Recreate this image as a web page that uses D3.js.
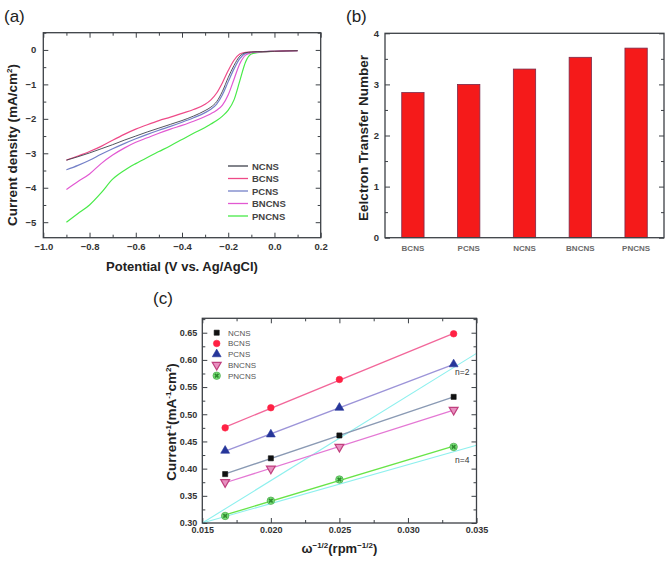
<!DOCTYPE html>
<html><head><meta charset="utf-8">
<script src="https://cdn.jsdelivr.net/npm/d3@7"></script>
<style>body{margin:0;background:#fff}svg{display:block}text{font-family:"Liberation Sans",Arial,sans-serif}</style>
</head><body><svg id="c" width="666" height="563"></svg>
<script>
// ---------- Panel (a): LSV curves ----------
const aPot = [-0.9,-0.85,-0.8,-0.75,-0.7,-0.65,-0.6,-0.55,-0.5,-0.45,-0.4,-0.35,-0.3,-0.275,-0.25,-0.225,-0.2,-0.175,-0.15,-0.125,-0.1,-0.075,-0.05,0,0.05,0.1];
const aBCNS  = [-3.2,-3.08,-2.95,-2.8,-2.62,-2.45,-2.3,-2.17,-2.05,-1.95,-1.84,-1.73,-1.58,-1.45,-1.25,-0.95,-0.6,-0.3,-0.12,-0.07,-0.06,-0.05,-0.05,-0.04,-0.03,-0.02];
const aNCNS  = [-3.2,-3.1,-2.99,-2.87,-2.75,-2.62,-2.5,-2.38,-2.27,-2.16,-2.05,-1.92,-1.76,-1.66,-1.5,-1.2,-0.8,-0.45,-0.18,-0.08,-0.06,-0.05,-0.05,-0.04,-0.03,-0.02];
const aPCNS  = [-3.48,-3.35,-3.2,-3.03,-2.87,-2.72,-2.58,-2.45,-2.33,-2.22,-2.1,-1.97,-1.82,-1.72,-1.57,-1.3,-0.92,-0.55,-0.25,-0.1,-0.07,-0.06,-0.05,-0.04,-0.03,-0.02];
const aBNCNS = [-4.05,-3.82,-3.6,-3.3,-3.05,-2.85,-2.68,-2.55,-2.42,-2.3,-2.19,-2.07,-1.93,-1.85,-1.75,-1.6,-1.3,-0.85,-0.4,-0.15,-0.08,-0.06,-0.05,-0.04,-0.03,-0.02];
const aPNCNS = [-5.0,-4.75,-4.5,-4.15,-3.75,-3.5,-3.3,-3.12,-2.95,-2.78,-2.6,-2.42,-2.25,-2.15,-2.05,-1.92,-1.75,-1.45,-0.9,-0.35,-0.12,-0.08,-0.06,-0.04,-0.03,-0.02];
const aNames = ["NCNS","BCNS","PCNS","BNCNS","PNCNS"];
const aColors = ["#3e424c","#ee4a88","#7480c8","#e258d2","#48ea48"];

// ---------- Panel (b): electron transfer number ----------
const bCats = ["BCNS","PCNS","NCNS","BNCNS","PNCNS"];
const bVals = [2.84, 3.0, 3.3, 3.53, 3.71];

// ---------- Panel (c): K-L plots ----------
const cX = [0.016667, 0.02, 0.025, 0.033333];
const cNCNS  = [0.390, 0.419, 0.461, 0.532];
const cBCNS  = [0.475, 0.512, 0.564, 0.648];
const cPCNS  = [0.433, 0.463, 0.512, 0.592];
const cBNCNS = [0.375, 0.400, 0.440, 0.508];
const cPNCNS = [0.313, 0.341, 0.380, 0.440];
const cN2 = [[0.015,0.300],[0.035,0.612]];
const cN4 = [[0.015,0.300],[0.035,0.443]];
const cMarkColors = ["#111111","#ff2244","#26369a","#c0407e","#58d058"];
const cLineColors = ["#8a9ab4","#f2679a","#9c94d8","#e478d4","#68e448"];

const svg = d3.select("#c");
const FONT = '"Liberation Sans",Arial,sans-serif';
const frameColor = "#3c4046";

function styleAxis(g, fs){
  g.select(".domain").remove();
  g.selectAll("line").attr("stroke", frameColor).attr("stroke-width",1);
  g.selectAll("text").attr("font-size", fs).attr("font-weight","bold").attr("fill","#333").attr("font-family",FONT);
}
function frame(x0,y0,x1,y1){
  svg.append("rect").attr("x",x0).attr("y",y0).attr("width",x1-x0).attr("height",y1-y0)
    .attr("fill","none").attr("stroke",frameColor).attr("stroke-width",1.3);
}

// ===== Panel (a) =====
{
  const L=43.3,R=320.7,T=32.7,B=237.7;
  const x = d3.scaleLinear([-1.0,0.2],[L,R]);
  const y = d3.scaleLinear([-5.45,0.5],[B,T]);
  const xMaj=[-1.0,-0.8,-0.6,-0.4,-0.2,0.0,0.2], xMin=d3.range(-0.9,0.2,0.2).map(v=>+v.toFixed(2));
  const yMaj=[0,-1,-2,-3,-4,-5], yMin=[0.5,-0.5,-1.5,-2.5,-3.5,-4.5];
  let g;
  g=svg.append("g").attr("transform",`translate(0,${B})`).call(d3.axisBottom(x).tickValues(xMaj).tickFormat(d3.format(".1f")).tickSizeInner(-5).tickSizeOuter(0).tickPadding(6)); styleAxis(g,9.5);
  g=svg.append("g").attr("transform",`translate(0,${B})`).call(d3.axisBottom(x).tickValues(xMin).tickFormat("").tickSizeInner(-3).tickSizeOuter(0)); styleAxis(g,9);
  g=svg.append("g").attr("transform",`translate(0,${T})`).call(d3.axisTop(x).tickValues(xMaj).tickFormat("").tickSizeInner(-5).tickSizeOuter(0)); styleAxis(g,9);
  g=svg.append("g").attr("transform",`translate(0,${T})`).call(d3.axisTop(x).tickValues(xMin).tickFormat("").tickSizeInner(-3).tickSizeOuter(0)); styleAxis(g,9);
  g=svg.append("g").attr("transform",`translate(${L},0)`).call(d3.axisLeft(y).tickValues(yMaj).tickFormat(d3.format("d")).tickSizeInner(-5).tickSizeOuter(0).tickPadding(7)); styleAxis(g,9.5);
  g=svg.append("g").attr("transform",`translate(${L},0)`).call(d3.axisLeft(y).tickValues(yMin).tickFormat("").tickSizeInner(-3).tickSizeOuter(0)); styleAxis(g,9);
  g=svg.append("g").attr("transform",`translate(${R},0)`).call(d3.axisRight(y).tickValues(yMaj).tickFormat("").tickSizeInner(-5).tickSizeOuter(0)); styleAxis(g,9);
  g=svg.append("g").attr("transform",`translate(${R},0)`).call(d3.axisRight(y).tickValues(yMin).tickFormat("").tickSizeInner(-3).tickSizeOuter(0)); styleAxis(g,9);
  frame(L,T,R,B);
  const series=[aNCNS,aBCNS,aPCNS,aBNCNS,aPNCNS];
  const line=d3.line().x((d,i)=>x(aPot[i])).y(d=>y(d)).curve(d3.curveMonotoneX);
  const order=[4,3,2,1,0];
  order.forEach(k=>{
    svg.append("path").attr("d",line(series[k])).attr("fill","none").attr("stroke",aColors[k]).attr("stroke-width",k===0?0.9:1.2);
  });
  // legend
  aNames.forEach((n,i)=>{
    const yy=166+i*12.5;
    svg.append("line").attr("x1",228).attr("x2",248).attr("y1",yy).attr("y2",yy).attr("stroke",aColors[i]).attr("stroke-width",1.3);
    svg.append("text").attr("x",252).attr("y",yy+3.5).attr("font-size",9.5).attr("font-weight","bold").attr("fill","#444").text(n);
  });
  svg.append("text").attr("x",(L+R)/2).attr("y",271).attr("text-anchor","middle").attr("font-size",13).attr("font-weight","bold").attr("fill","#222").text("Potential (V vs. Ag/AgCl)");
  const yl=svg.append("text").attr("transform",`translate(17,145) rotate(-90)`).attr("text-anchor","middle").attr("font-size",13.5).attr("font-weight","bold").attr("fill","#222");
  yl.append("tspan").text("Current density (mA/cm");
  yl.append("tspan").attr("dy",-5).attr("font-size",8).text("2");
  yl.append("tspan").attr("dy",5).text(")");
  svg.append("text").attr("x",4).attr("y",22).attr("font-size",17).attr("fill","#222").text("(a)");
}

// ===== Panel (b) =====
{
  const L=385,R=664,T=33.3,B=237.7;
  const x=d3.scaleBand(bCats,[L,R]).paddingInner(0.6).paddingOuter(0.3);
  const y=d3.scaleLinear([0,4],[B,T]);
  let g;
  g=svg.append("g").attr("transform",`translate(${L},0)`).call(d3.axisLeft(y).tickValues([0,1,2,3,4]).tickFormat(d3.format("d")).tickSizeInner(-5).tickSizeOuter(0).tickPadding(6)); styleAxis(g,9.5);
  g=svg.append("g").attr("transform",`translate(${L},0)`).call(d3.axisLeft(y).tickValues([0.5,1.5,2.5,3.5]).tickFormat("").tickSizeInner(-3).tickSizeOuter(0)); styleAxis(g,9);
  g=svg.append("g").attr("transform",`translate(${R},0)`).call(d3.axisRight(y).tickValues([0,1,2,3,4]).tickFormat("").tickSizeInner(-5).tickSizeOuter(0)); styleAxis(g,9);
  g=svg.append("g").attr("transform",`translate(${R},0)`).call(d3.axisRight(y).tickValues([0.5,1.5,2.5,3.5]).tickFormat("").tickSizeInner(-3).tickSizeOuter(0)); styleAxis(g,9);
  g=svg.append("g").attr("transform",`translate(0,${B})`).call(d3.axisBottom(x).tickSize(0).tickPadding(8)); styleAxis(g,8);
  g.selectAll("text").attr("fill","#6a6a6a");
  svg.selectAll(".bar").data(bVals).enter().append("rect")
    .attr("x",(d,i)=>x(bCats[i])).attr("width",x.bandwidth())
    .attr("y",d=>y(d)).attr("height",d=>B-y(d))
    .attr("fill","#f51a1a").attr("stroke","#7a2a4a").attr("stroke-width",0.8);
  frame(L,T,R,B);
  svg.append("text").attr("transform",`translate(${368},138) rotate(-90)`).attr("text-anchor","middle").attr("font-size",13.5).attr("font-weight","bold").attr("fill","#222").text("Eelctron Transfer Number");
  svg.append("text").attr("x",346).attr("y",22).attr("font-size",17).attr("fill","#222").text("(b)");
}

// ===== Panel (c) =====
{
  const L=202.3,R=476.5,T=318.3,B=523;
  const x=d3.scaleLinear([0.015,0.035],[L,R]);
  const y=d3.scaleLinear([0.30,0.6765],[B,T]);
  const xMaj=[0.015,0.020,0.025,0.030,0.035], xMin=[0.0175,0.0225,0.0275,0.0325];
  const yMaj=[0.30,0.35,0.40,0.45,0.50,0.55,0.60,0.65], yMin=[0.325,0.375,0.425,0.475,0.525,0.575,0.625,0.675];
  let g;
  g=svg.append("g").attr("transform",`translate(0,${B})`).call(d3.axisBottom(x).tickValues(xMaj).tickFormat(d3.format(".3f")).tickSizeInner(-5).tickSizeOuter(0).tickPadding(4)); styleAxis(g,9);
  g=svg.append("g").attr("transform",`translate(0,${B})`).call(d3.axisBottom(x).tickValues(xMin).tickFormat("").tickSizeInner(-3).tickSizeOuter(0)); styleAxis(g,9);
  g=svg.append("g").attr("transform",`translate(0,${T})`).call(d3.axisTop(x).tickValues(xMaj).tickFormat("").tickSizeInner(-5).tickSizeOuter(0)); styleAxis(g,9);
  g=svg.append("g").attr("transform",`translate(0,${T})`).call(d3.axisTop(x).tickValues(xMin).tickFormat("").tickSizeInner(-3).tickSizeOuter(0)); styleAxis(g,9);
  g=svg.append("g").attr("transform",`translate(${L},0)`).call(d3.axisLeft(y).tickValues(yMaj).tickFormat(d3.format(".2f")).tickSizeInner(-5).tickSizeOuter(0).tickPadding(5)); styleAxis(g,9);
  g=svg.append("g").attr("transform",`translate(${L},0)`).call(d3.axisLeft(y).tickValues(yMin).tickFormat("").tickSizeInner(-3).tickSizeOuter(0)); styleAxis(g,9);
  g=svg.append("g").attr("transform",`translate(${R},0)`).call(d3.axisRight(y).tickValues(yMaj).tickFormat("").tickSizeInner(-5).tickSizeOuter(0)); styleAxis(g,9);
  g=svg.append("g").attr("transform",`translate(${R},0)`).call(d3.axisRight(y).tickValues(yMin).tickFormat("").tickSizeInner(-3).tickSizeOuter(0)); styleAxis(g,9);
  // theoretical lines
  const ln=d3.line().x(d=>x(d[0])).y(d=>y(d[1]));
  [cN2,cN4].forEach(s=>svg.append("path").attr("d",ln(s)).attr("fill","none").attr("stroke","#8ef0ee").attr("stroke-width",1.1));
  const series=[cNCNS,cBCNS,cPCNS,cBNCNS,cPNCNS];
  // fit lines (least squares through the points)
  series.forEach((s,k)=>{
    const mx=d3.mean(cX), my=d3.mean(s);
    const b=d3.sum(cX,(v,i)=>(v-mx)*(s[i]-my))/d3.sum(cX,v=>(v-mx)*(v-mx));
    const a=my-b*mx;
    const x0=cX[0], x1=cX[cX.length-1];
    svg.append("path").attr("d",ln([[x0,a+b*x0],[x1,a+b*x1]])).attr("fill","none").attr("stroke",cLineColors[k]).attr("stroke-width",1.3);
  });
  frame(L,T,R,B);
  const sym=[d3.symbolSquare,d3.symbolCircle,d3.symbolTriangle,d3.symbolTriangle,d3.symbolCircle];
  function marker(k,px,py){
    const rot = k===3 ? " rotate(180)" : "";
    const sz = k===0?26:(k===1?34:(k===4?44:34));
    svg.append("path").attr("d",d3.symbol(sym[k],sz)()).attr("transform",`translate(${px},${py})${rot}`)
      .attr("fill", k===3?"#e890c0":(k===4?"#78e078":cMarkColors[k])).attr("stroke",k===4?"#3a9a3a":cMarkColors[k]).attr("stroke-width",k===3?1.2:0.6);
    if(k===4){
      svg.append("path").attr("d",d3.symbol(d3.symbolCross,14)()).attr("transform",`translate(${px},${py}) rotate(45)`).attr("fill","#2f8a2f");
    }
  }
  series.forEach((s,k)=>s.forEach((v,i)=>marker(k,x(cX[i]),y(v))));
  // legend
  aNames.forEach((n,k)=>{
    const yy=332.7+k*10.75;
    marker(k,216.7,yy);
    svg.append("text").attr("x",228).attr("y",yy+3).attr("font-size",8).attr("fill","#555").text(n);
  });
  svg.append("text").attr("x",455).attr("y",374.5).attr("font-size",8.5).attr("fill","#333").text("n=2");
  svg.append("text").attr("x",455).attr("y",463).attr("font-size",8.5).attr("fill","#333").text("n=4");
  // axis titles
  const xl=svg.append("text").attr("x",(L+R)/2).attr("y",553).attr("text-anchor","middle").attr("font-size",13).attr("font-weight","bold").attr("fill","#222");
  xl.append("tspan").text("ω");
  xl.append("tspan").attr("dy",-5).attr("font-size",8).text("−1/2");
  xl.append("tspan").attr("dy",5).text("(rpm");
  xl.append("tspan").attr("dy",-5).attr("font-size",8).text("−1/2");
  xl.append("tspan").attr("dy",5).text(")");
  const yl=svg.append("text").attr("transform",`translate(176,422) rotate(-90)`).attr("text-anchor","middle").attr("font-size",13.5).attr("font-weight","bold").attr("fill","#222");
  yl.append("tspan").text("Current");
  yl.append("tspan").attr("dy",-5).attr("font-size",8).text("-1");
  yl.append("tspan").attr("dy",5).text("(mA");
  yl.append("tspan").attr("dy",-5).attr("font-size",8).text("-1");
  yl.append("tspan").attr("dy",5).text("cm");
  yl.append("tspan").attr("dy",-5).attr("font-size",8).text("2");
  yl.append("tspan").attr("dy",5).text(")");
  svg.append("text").attr("x",153).attr("y",304).attr("font-size",17).attr("fill","#222").text("(c)");
}
</script></body></html>
